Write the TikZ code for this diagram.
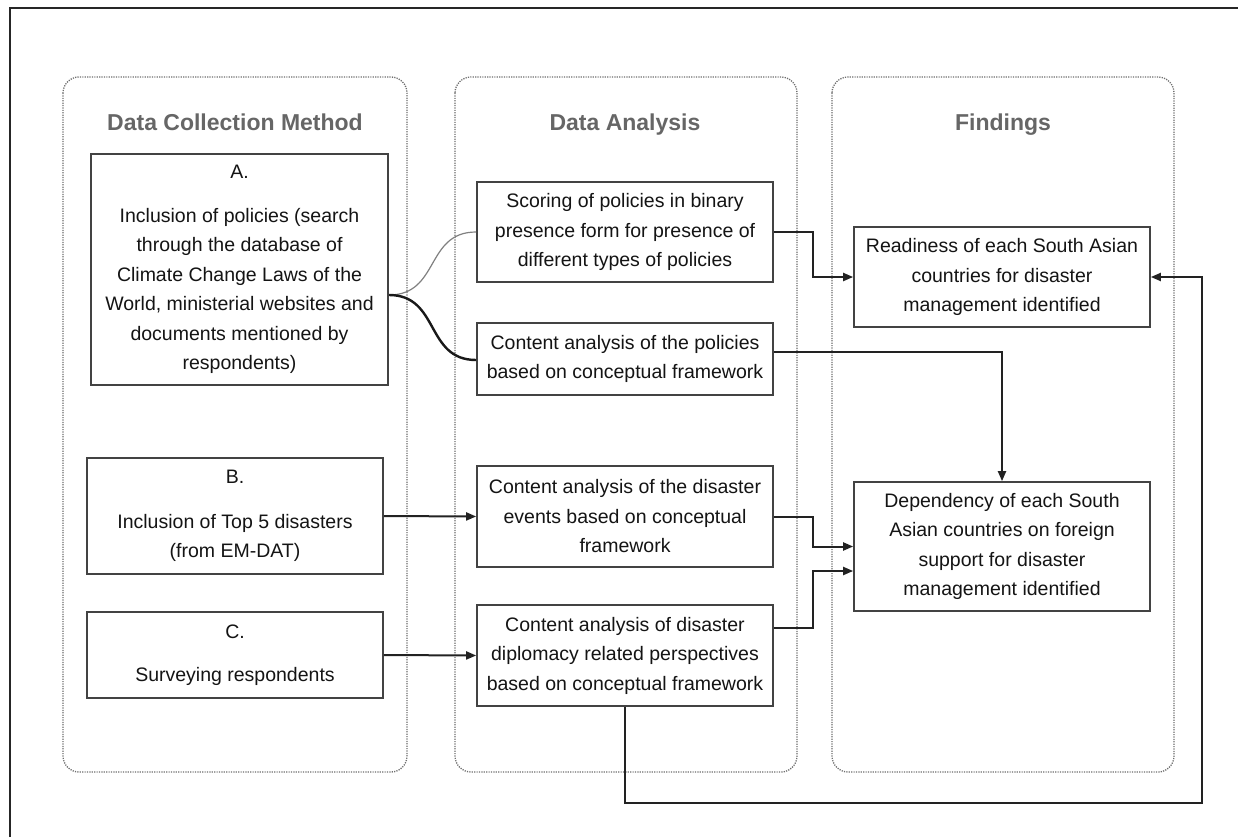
\documentclass[tikz,border=0pt]{standalone}
\usepackage{fontspec}
\setmainfont{Liberation Sans}
\usetikzlibrary{arrows.meta,calc}
\definecolor{linecol}{HTML}{222222}
\definecolor{titlecol}{HTML}{666666}
\definecolor{dotcol}{HTML}{6E6E6E}
\begin{document}
\begin{tikzpicture}[x=1pt,y=-1pt,
  box/.style={draw=linecol!85, line width=1.7pt, inner sep=0pt, align=center,
    font=\fontsize{19.5}{29.5}\selectfont, text=black!92, minimum width=296pt},
  col/.style={draw=dotcol, dash pattern=on 1.2pt off 1.2pt, line width=1.3pt, rounded corners=16pt},
  ttl/.style={font=\fontsize{23}{28}\selectfont\bfseries, text=titlecol, anchor=base},
  ln/.style={draw=linecol, line width=2pt},
  arr/.style={ln, -{Triangle[length=10pt,width=8pt]}}]
\useasboundingbox (0,0) rectangle (1238,837);
\fill[white] (0,0) rectangle (1238,837);
% outer frame
\draw[line width=2.4pt, black!85] (10,837) -- (10,8) -- (1238,8);
% columns
\draw[col] (63,77) rectangle (407,772);
\draw[col] (455,77) rectangle (797,772);
\draw[col] (832,77) rectangle (1174,772);
\node[ttl] (t1) at (235,131) {Data Collection Method};
\node[ttl] (t2) at (625,131) {Data Analysis};
\node[ttl] (t3) at (1003,131) {Findings};
% data collection boxes
\node[box, minimum width=297pt, minimum height=231pt] (A) at (239.5,269.5)
  {A.\\[14pt]Inclusion of policies (search\\through the database of\\Climate Change Laws of the\\World, ministerial websites and\\documents mentioned by\\respondents)};
\node[box, minimum height=116pt] (B) at (235,516)
  {B.\\[15pt]Inclusion of Top 5 disasters\\(from EM-DAT)};
\node[box, minimum height=86pt] (C) at (235,655)
  {C.\\[14pt]Surveying respondents};
% analysis boxes
\node[box, minimum height=100pt] (S) at (625,232)
  {Scoring of policies in binary\\presence form for presence of\\different types of policies};
\node[box, minimum height=72pt] (P) at (625,359)
  {Content analysis of the policies\\based on conceptual framework};
\node[box, minimum height=101pt] (E) at (625,516.5)
  {Content analysis of the disaster\\events based on conceptual\\framework};
\node[box, minimum height=101pt] (G) at (625,655.5)
  {Content analysis of disaster\\diplomacy related perspectives\\based on conceptual framework};
% findings boxes
\node[box, minimum height=100pt] (R) at (1002,277)
  {Readiness of each South Asian\\countries for disaster\\management identified};
\node[box, minimum height=129pt] (D) at (1002,546.5)
  {Dependency of each South\\Asian countries on foreign\\support for disaster\\management identified};
% connectors
\coordinate (split) at ([yshift=-25.5pt]A.east);
\draw[draw=black!50, line width=1.2pt] (split) .. controls (440,295) and (425,232) .. (S.west);
\draw[line width=2.4pt, black!90] (split) .. controls (440,295) and (425,360) .. ([yshift=-1pt]P.west);
\draw[arr] (S.east) -- (813,232) |- (R.west);
\draw[arr] ([yshift=7pt]P.east) -| (D.north);
\draw[arr] (B.east) -- (E.west);
\draw[arr] (C.east) -- (G.west);
\draw[arr] (E.east) -- (813,516.5) |- (D.west);
\draw[arr] ([yshift=27.5pt]G.east) -- (813,628) |- ([yshift=-24.5pt]D.west);
\coordinate (fb) at (1202,803);
\draw[arr] (G.south) |- (fb) |- (R.east);
\end{tikzpicture}
\end{document}
